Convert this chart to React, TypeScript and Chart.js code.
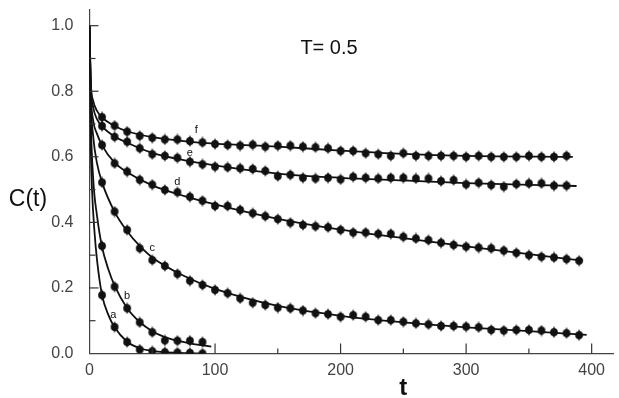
import React, { useEffect, useRef } from 'react';
import { Chart, registerables } from 'chart.js';
Chart.register(...registerables);

// ---- measured points (t, C(t)) ----
const tLong = [10, 20, 30, 40, 50, 60, 70, 80, 90, 100, 110, 120, 130, 140, 150, 160, 170, 180, 190, 200, 210, 220, 230, 240, 250, 260, 270, 280, 290, 300, 310, 320, 330, 340, 350, 360, 370, 380];
const tLonger = [10, 20, 30, 40, 50, 60, 70, 80, 90, 100, 110, 120, 130, 140, 150, 160, 170, 180, 190, 200, 210, 220, 230, 240, 250, 260, 270, 280, 290, 300, 310, 320, 330, 340, 350, 360, 370, 380, 390];
const tShort = [10, 20, 30, 40, 50, 60, 70, 80, 90];

const fVals = [0.721, 0.695, 0.677, 0.664, 0.658, 0.653, 0.653, 0.648, 0.644, 0.639, 0.636, 0.634, 0.637, 0.631, 0.634, 0.634, 0.631, 0.629, 0.626, 0.618, 0.618, 0.611, 0.608, 0.603, 0.611, 0.603, 0.603, 0.603, 0.603, 0.600, 0.603, 0.600, 0.600, 0.600, 0.603, 0.600, 0.600, 0.603];
const eVals = [0.694, 0.661, 0.646, 0.626, 0.608, 0.603, 0.597, 0.585, 0.577, 0.570, 0.568, 0.565, 0.563, 0.557, 0.541, 0.545, 0.536, 0.534, 0.536, 0.531, 0.539, 0.536, 0.534, 0.536, 0.536, 0.534, 0.534, 0.526, 0.529, 0.516, 0.521, 0.514, 0.509, 0.517, 0.519, 0.519, 0.512, 0.512];
const dVals = [0.636, 0.580, 0.555, 0.530, 0.515, 0.499, 0.492, 0.478, 0.466, 0.450, 0.450, 0.438, 0.428, 0.419, 0.410, 0.399, 0.392, 0.388, 0.385, 0.377, 0.369, 0.369, 0.365, 0.365, 0.356, 0.351, 0.346, 0.338, 0.331, 0.326, 0.323, 0.321, 0.314, 0.307, 0.300, 0.295, 0.293, 0.288, 0.283];
const cVals = [0.522, 0.433, 0.377, 0.321, 0.285, 0.267, 0.243, 0.222, 0.209, 0.194, 0.184, 0.168, 0.155, 0.148, 0.140, 0.138, 0.131, 0.123, 0.120, 0.112, 0.117, 0.112, 0.102, 0.102, 0.097, 0.092, 0.089, 0.084, 0.084, 0.082, 0.080, 0.072, 0.070, 0.072, 0.072, 0.070, 0.065, 0.062, 0.056];
const bVals = [0.328, 0.204, 0.138, 0.095, 0.065, 0.040, 0.039, 0.039, 0.035];
const aVals = [0.178, 0.081, 0.035, 0.012, 0.007, 0.004, 0.003, 0.002, 0.000];

// ---- fitted curves ----
const fitFT = [0, 1, 3, 6, 10, 20, 30, 50, 75, 100, 150, 200, 250, 300, 385];
const fitFY = [1.0, 0.83, 0.77, 0.74, 0.72, 0.694, 0.678, 0.66, 0.648, 0.64, 0.631, 0.619, 0.609, 0.603, 0.6];
const fitET = [0, 1, 3, 6, 10, 20, 30, 50, 75, 100, 150, 200, 250, 300, 388];
const fitEY = [1.0, 0.82, 0.75, 0.715, 0.693, 0.662, 0.643, 0.612, 0.59, 0.574, 0.549, 0.536, 0.528, 0.52, 0.511];
const fitDT = [0, 1, 3, 6, 10, 20, 30, 50, 75, 100, 150, 200, 250, 300, 350, 393];
const fitDY = [1.0, 0.8, 0.71, 0.67, 0.635, 0.582, 0.553, 0.513, 0.481, 0.455, 0.411, 0.378, 0.352, 0.327, 0.303, 0.283];
const fitCT = [0, 1, 3, 6, 10, 20, 30, 40, 50, 75, 100, 150, 200, 250, 300, 350, 396];
const fitCY = [1.0, 0.78, 0.66, 0.58, 0.522, 0.432, 0.373, 0.328, 0.293, 0.237, 0.197, 0.145, 0.115, 0.095, 0.08, 0.068, 0.057];
const fitBT = [0, 1, 3, 6, 10, 15, 20, 30, 40, 50, 60, 70, 80, 90, 97];
const fitBY = [1.0, 0.72, 0.53, 0.42, 0.325, 0.257, 0.207, 0.138, 0.096, 0.068, 0.05, 0.039, 0.031, 0.025, 0.021];
const fitAT = [0, 0.5, 1, 2, 4, 6, 10, 15, 20, 30, 40, 50, 60, 70, 80, 90];
const fitAY = [1.0, 0.75, 0.63, 0.5, 0.37, 0.285, 0.178, 0.118, 0.08, 0.036, 0.016, 0.008, 0.004, 0.002, 0.001, 0.0];

// curve letters: [label, t, C]
const curveLabels: [string, number, number][] = [
  ['f', 85, 0.682],
  ['e', 80, 0.611],
  ['d', 70, 0.524],
  ['c', 50, 0.321],
  ['b', 30, 0.175],
  ['a', 19, 0.119],
];
const yTickValues = [0.1, 0.2, 0.3, 0.4, 0.5, 0.6, 0.7, 0.8, 0.9, 1.0];
const xTickValues = [50, 100, 150, 200, 250, 300, 350, 400];
const titleText = 'T= 0.5';
const yTitle = 'C(t)';
const xTitle = 't';

const zip = (xs: number[], ys: number[]) => ys.map((v, i) => ({ x: xs[i], y: v }));

function makeMarker(): HTMLCanvasElement {
  const c = document.createElement('canvas');
  c.width = 10;
  c.height = 12;
  const g = c.getContext('2d')!;
  g.fillStyle = '#111';
  g.beginPath();
  g.moveTo(5, 0);
  g.lineTo(6.3, 3);
  g.lineTo(6.3, 9);
  g.lineTo(5, 12);
  g.lineTo(3.7, 9);
  g.lineTo(3.7, 3);
  g.closePath();
  g.fill();
  g.beginPath();
  g.arc(5, 6, 3.9, 0, Math.PI * 2);
  g.fill();
  return c;
}

export default function App() {
  const ref = useRef<HTMLCanvasElement>(null);
  useEffect(() => {
    const marker = makeMarker();
    const pointDs = (vals: number[], ts: number[]) => ({
      data: zip(ts, vals),
      showLine: false,
      pointStyle: marker as any,
      pointRadius: 5,
      borderColor: '#111',
      backgroundColor: '#111',
    });
    const lineDs = (ts: number[], ys: number[]) => ({
      data: zip(ts, ys),
      showLine: true,
      pointRadius: 0,
      borderColor: '#111',
      borderWidth: 1.8,
      cubicInterpolationMode: 'monotone' as const,
      fill: false,
    });

    const overlay = {
      id: 'overlay',
      afterDraw(chart: any) {
        const { ctx, scales } = chart;
        const xs = scales.x;
        const ys = scales.y;
        const left = xs.getPixelForValue(0);
        const bottom = ys.getPixelForValue(0);
        ctx.save();
        ctx.strokeStyle = '#333';
        ctx.lineWidth = 1.2;
        yTickValues.forEach((v) => {
          const major = Math.abs(v * 5 - Math.round(v * 5)) < 1e-6;
          const py = ys.getPixelForValue(v);
          ctx.beginPath();
          ctx.moveTo(left, py);
          ctx.lineTo(left + (major ? 9 : 6), py);
          ctx.stroke();
        });
        xTickValues.forEach((v) => {
          const major = v % 100 === 0;
          const px = xs.getPixelForValue(v);
          ctx.beginPath();
          ctx.moveTo(px, bottom);
          ctx.lineTo(px, bottom - (major ? 10 : 5));
          ctx.stroke();
        });
        ctx.fillStyle = '#111';
        ctx.font = '11px "Liberation Sans"';
        ctx.textAlign = 'center';
        ctx.textBaseline = 'middle';
        curveLabels.forEach(([s, t, c]) => {
          ctx.fillText(s, xs.getPixelForValue(t), ys.getPixelForValue(c));
        });
        ctx.font = '20px "Liberation Sans"';
        ctx.textAlign = 'left';
        ctx.textBaseline = 'alphabetic';
        ctx.fillText(titleText, xs.getPixelForValue(168), ys.getPixelForValue(0.915));
        ctx.font = '23px "Liberation Sans"';
        ctx.textAlign = 'center';
        ctx.textBaseline = 'middle';
        ctx.fillText(yTitle, 28, ys.getPixelForValue(0.468));
        ctx.font = 'bold 24px "Liberation Sans"';
        ctx.fillText(xTitle, xs.getPixelForValue(250), 388);
        ctx.restore();
      },
    };

    const chart = new Chart(ref.current!, {
      type: 'scatter',
      data: {
        datasets: [
          pointDs(fVals, tLong),
          pointDs(eVals, tLong),
          pointDs(dVals, tLonger),
          pointDs(cVals, tLonger),
          pointDs(bVals, tShort),
          pointDs(aVals, tShort),
          lineDs(fitFT, fitFY),
          lineDs(fitET, fitEY),
          lineDs(fitDT, fitDY),
          lineDs(fitCT, fitCY),
          lineDs(fitBT, fitBY),
          lineDs(fitAT, fitAY),
        ] as any,
      },
      options: {
        animation: false,
        responsive: false,
        layout: { padding: { top: 9.3, right: 0, left: 0, bottom: 0 } },
        plugins: { legend: { display: false }, tooltip: { enabled: false } },
        scales: {
          x: {
            type: 'linear',
            min: 0,
            max: 417,
            afterFit: (s: any) => {
              s.height = 44.5;
              s.paddingLeft = 0;
              s.paddingRight = 0;
            },
            grid: { display: true, drawOnChartArea: false, drawTicks: false },
            border: { display: true, color: '#444', width: 1.2 },
            ticks: {
              stepSize: 100,
              includeBounds: false,
              padding: 7,
              color: '#444',
              font: { family: '"Liberation Sans"', size: 16 },
              callback: (v: any) => (Number(v) % 100 === 0 ? String(v) : ''),
            },
          },
          y: {
            type: 'linear',
            min: 0,
            max: 1.05,
            afterFit: (s: any) => {
              s.width = 89.5;
              s.paddingTop = 0;
              s.paddingBottom = 0;
            },
            grid: { display: true, drawOnChartArea: false, drawTicks: false },
            border: { display: true, color: '#444', width: 1.2 },
            ticks: {
              stepSize: 0.2,
              includeBounds: false,
              padding: 16,
              color: '#444',
              font: { family: '"Liberation Sans"', size: 16 },
              callback: (v: any) => {
                const n = Number(v);
                if (n > 1.0001) return '';
                if (Math.abs(n * 5 - Math.round(n * 5)) > 1e-6) return '';
                return n.toFixed(1);
              },
            },
          },
        },
      },
      plugins: [overlay],
    });
    return () => chart.destroy();
  }, []);
  return (
    <div style={{ position: 'absolute', left: 0, top: 0, width: 619, height: 398, background: '#fff' }}>
      <canvas ref={ref} width={619} height={398} />
    </div>
  );
}
